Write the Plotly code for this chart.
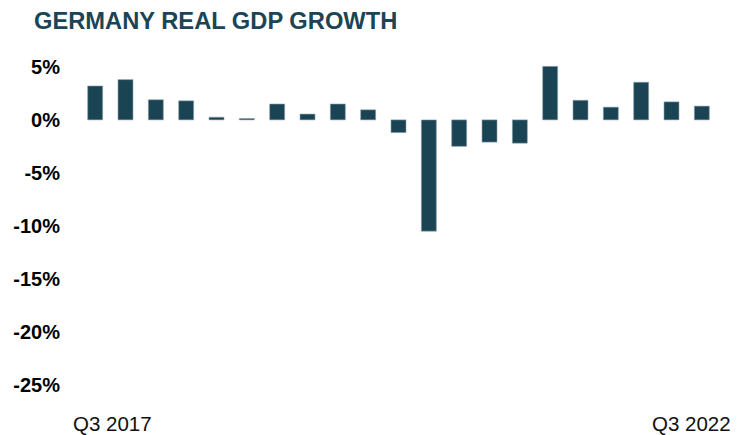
import plotly.graph_objects as go

quarters = ["Q3 2017", "Q4 2017", "Q1 2018", "Q2 2018", "Q3 2018", "Q4 2018",
            "Q1 2019", "Q2 2019", "Q3 2019", "Q4 2019", "Q1 2020", "Q2 2020",
            "Q3 2020", "Q4 2020", "Q1 2021", "Q2 2021", "Q3 2021", "Q4 2021",
            "Q1 2022", "Q2 2022", "Q3 2022"]
growth = [3.2, 3.8, 1.9, 1.8, 0.25, 0.13, 1.5, 0.55, 1.5, 0.95, -1.2, -10.5,
          -2.5, -2.1, -2.2, 5.05, 1.85, 1.2, 3.55, 1.7, 1.3]
y_ticks = [5, 0, -5, -10, -15, -20, -25]
y_tick_labels = ["5%", "0%", "-5%", "-10%", "-15%", "-20%", "-25%"]
title_text = "GERMANY REAL GDP GROWTH"
first_label = quarters[0]
last_label = quarters[-1]

BAR = "#1a4454"
W, H = 739, 435

fig = go.Figure(go.Bar(
    x=quarters, y=growth,
    marker=dict(color=BAR, line=dict(color="#8da3ad", width=0.6)),
))

ml, mr, mt, mb = 80, 22, 51, 29
fig.update_layout(
    width=W, height=H,
    margin=dict(l=ml, r=mr, t=mt, b=mb, pad=0),
    paper_bgcolor="white", plot_bgcolor="white",
    bargap=0.505,
    showlegend=False,
    font=dict(family="Liberation Sans, Arial, sans-serif", color="#000000"),
    xaxis=dict(showticklabels=False, showgrid=False, zeroline=False,
               showline=False, ticks=""),
    yaxis=dict(range=[-27, 6.5], tickvals=y_ticks, ticktext=y_tick_labels,
               showgrid=False, zeroline=False, showline=False, ticks="",
               ticklabelstandoff=19,
               tickfont=dict(size=20, family="Liberation Sans, Arial, sans-serif",
                             color="#000000", weight="bold")),
    annotations=[
        dict(text="<b>" + title_text + "</b>", xref="paper", yref="paper",
             x=(32 - ml) / (W - ml - mr), y=1 + (mt - 21) / (H - mt - mb),
             xanchor="left", yanchor="middle", showarrow=False,
             font=dict(size=23.7, color="#1b4556",
                       family="Liberation Sans, Arial, sans-serif")),
        dict(text=first_label, xref="paper", yref="paper",
             x=(71 - ml) / (W - ml - mr), y=-(423 - (H - mb)) / (H - mt - mb),
             xanchor="left", yanchor="middle", showarrow=False,
             font=dict(size=20.5, color="#111111",
                       family="Liberation Sans, Arial, sans-serif")),
        dict(text=last_label, xref="paper", yref="paper",
             x=(733 - ml) / (W - ml - mr), y=-(423 - (H - mb)) / (H - mt - mb),
             xanchor="right", yanchor="middle", showarrow=False,
             font=dict(size=20.5, color="#111111",
                       family="Liberation Sans, Arial, sans-serif")),
    ],
)

fig.write_html("out.html", config={"displayModeBar": False})
